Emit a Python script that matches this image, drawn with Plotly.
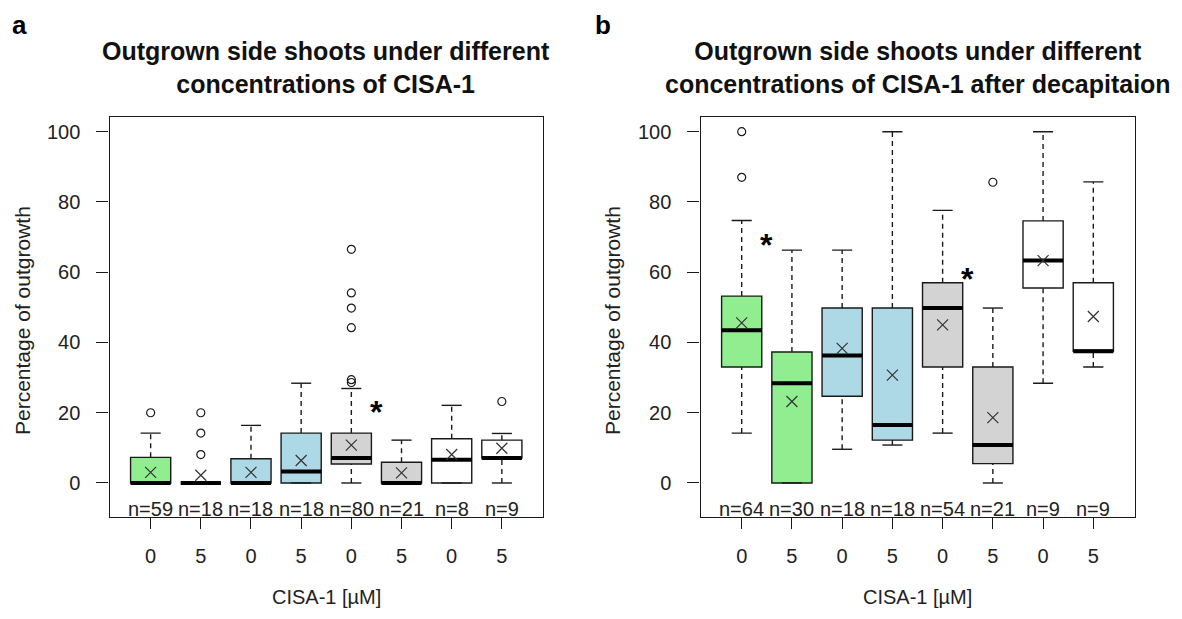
import plotly.graph_objects as go

# ---------------- data ----------------
positions = [1, 2, 3, 4, 5, 6, 7, 8]
tick_labels = ["0", "5", "0", "5", "0", "5", "0", "5"]
fill_colors = ["#90EE90", "#90EE90", "#ADD8E6", "#ADD8E6",
               "#D3D3D3", "#D3D3D3", "#FFFFFF", "#FFFFFF"]

# panel a
q1_a = [0, 0, 0, 0, 5.4, 0, 0, 7.1]
med_a = [0, 0, 0, 3.3, 7.1, 0, 6.6, 7.1]
q3_a = [7.3, 0, 6.9, 14.2, 14.2, 5.9, 12.6, 12.2]
lo_a = [0, 0, 0, 0, 0, 0, 0, 0]
hi_a = [14.2, 0, 16.4, 28.4, 26.9, 12.2, 22.1, 14.1]
mean_a = [3.0, 2.2, 3.0, 6.4, 10.8, 2.9, 8.1, 9.9]
out_a = [[20], [20, 14.2, 8.1], [], [], [66.5, 54.1, 49.8, 44.2, 29.4, 28.6], [], [], [23.2]]
n_a = [59, 18, 18, 18, 80, 21, 8, 9]
star_x_a = [5.5]
star_y_a = [21]

# panel b
q1_b = [33.0, 0, 24.7, 12.2, 33.0, 5.5, 55.5, 37.5]
med_b = [43.5, 28.4, 36.3, 16.5, 49.8, 10.8, 63.3, 37.5]
q3_b = [53.2, 37.3, 49.8, 49.8, 57.0, 33.0, 74.6, 57.0]
lo_b = [14.2, 0, 9.6, 10.8, 14.2, 0, 28.4, 33.0]
hi_b = [74.7, 66.3, 66.3, 100, 77.6, 49.8, 100, 85.7]
mean_b = [45.6, 23.2, 38.3, 30.7, 45.0, 18.6, 63.3, 47.4]
out_b = [[100, 87.0], [], [], [], [], [85.6], [], []]
n_b = [64, 30, 18, 18, 54, 21, 9, 9]
star_x_b = [1.5, 5.5]
star_y_b = [68.7, 59.1]

titles = ["Outgrown side shoots under different<br>concentrations of CISA-1",
          "Outgrown side shoots under different<br>concentrations of CISA-1 after decapitaion"]
panel_letters = ["a", "b"]
x_title = "CISA-1 [µM]"
y_title = "Percentage of outgrowth"

# ---------------- styling ----------------
FONT = "Arial, Liberation Sans, sans-serif"
LINE = "#1a1a1a"
OFF = 8                      # default page body margin
W, H = 1182 - 2 * OFF, 619 - 2 * OFF
BOX_W = 0.8
CAP_W = 0.4


def px(x):
    return (x - OFF) / W


def py(y):
    return 1 - (y - OFF) / H


fig = go.Figure()


def add_panel(xa, ya, q1, med, q3, lo, hi, mean, outs, ns, sx, sy):
    xref = "x" if xa == "x" else "x2"
    yref = "y" if ya == "y" else "y2"
    for i, p in enumerate(positions):
        fig.add_trace(go.Box(
            x=[p], q1=[q1[i]], median=[med[i]], q3=[q3[i]],
            lowerfence=[q1[i]], upperfence=[q3[i]],
            width=BOX_W, fillcolor=fill_colors[i],
            line=dict(color=LINE, width=1.4), boxpoints=False,
            whiskerwidth=0, xaxis=xa, yaxis=ya, showlegend=False,
            hoverinfo="skip"))
        fig.add_trace(go.Scatter(
            x=[p, p, None, p, p], y=[lo[i], q1[i], None, q3[i], hi[i]],
            mode="lines", line=dict(color=LINE, width=1.4, dash="5px,4px"),
            xaxis=xa, yaxis=ya, showlegend=False, hoverinfo="skip"))
        fig.add_trace(go.Scatter(
            x=[p - CAP_W / 2, p + CAP_W / 2, None, p - CAP_W / 2, p + CAP_W / 2],
            y=[lo[i], lo[i], None, hi[i], hi[i]],
            mode="lines", line=dict(color=LINE, width=1.4),
            xaxis=xa, yaxis=ya, showlegend=False, hoverinfo="skip"))
        fig.add_trace(go.Scatter(
            x=[p - BOX_W / 2, p + BOX_W / 2], y=[med[i], med[i]],
            mode="lines", line=dict(color="#000000", width=4),
            xaxis=xa, yaxis=ya, showlegend=False, hoverinfo="skip"))
        if outs[i]:
            fig.add_trace(go.Scatter(
                x=[p] * len(outs[i]), y=outs[i], mode="markers",
                marker=dict(symbol="circle-open", size=8, color=LINE,
                            line=dict(width=1.2)),
                xaxis=xa, yaxis=ya, showlegend=False, hoverinfo="skip"))
    fig.add_trace(go.Scatter(
        x=positions, y=mean, mode="markers",
        marker=dict(symbol="x-thin-open", size=11, color="#333333",
                    line=dict(width=1.2, color="#333333")),
        xaxis=xa, yaxis=ya, showlegend=False, hoverinfo="skip"))
    for i, p in enumerate(positions):
        fig.add_annotation(x=p, y=-7.4, xref=xref, yref=yref,
                           xanchor="center", yanchor="middle",
                           text=f"n={ns[i]}", showarrow=False,
                           font=dict(family=FONT, size=20, color="#222222"))
    for xx, yy in zip(sx, sy):
        fig.add_annotation(x=xx, y=yy - 0.9, xref=xref, yref=yref, text="*",
                           xanchor="center", yanchor="middle",
                           showarrow=False,
                           font=dict(family=FONT, size=32, color="#000000",
                                     weight="bold"))


add_panel("x", "y", q1_a, med_a, q3_a, lo_a, hi_a, mean_a, out_a, n_a, star_x_a, star_y_a)
add_panel("x2", "y2", q1_b, med_b, q3_b, lo_b, hi_b, mean_b, out_b, n_b, star_x_b, star_y_b)

left_px = [109.5, 700.5]
right_px = [543.0, 1134.5]
top_px, bot_px = 117.0, 517.0
y_dom = [py(bot_px), py(top_px)]

axis_common = dict(showline=True, mirror=True, linecolor=LINE, linewidth=1.4,
                   showgrid=False, zeroline=False, ticks="outside",
                   tickcolor=LINE, tickwidth=1.2,
                   tickfont=dict(family=FONT, size=20, color="#222222"))

for k in range(2):
    xname = "xaxis" if k == 0 else "xaxis2"
    yname = "yaxis" if k == 0 else "yaxis2"
    fig.update_layout(**{
        xname: dict(domain=[px(left_px[k]), px(right_px[k])], range=[0.18, 8.82],
                    tickvals=positions, ticktext=tick_labels, ticklen=11,
                    ticklabelstandoff=10, anchor="y" if k == 0 else "y2",
                    **axis_common),
        yname: dict(domain=y_dom, range=[-9.68, 104.18],
                    tickvals=[0, 20, 40, 60, 80, 100], ticklen=12,
                    ticklabelstandoff=12, anchor="x" if k == 0 else "x2",
                    **axis_common),
    })
    cxp = (left_px[k] + right_px[k]) / 2
    fig.add_annotation(x=px(cxp), y=py(68), xref="paper", yref="paper",
                       xanchor="center", yanchor="middle",
                       text=titles[k], showarrow=False,
                       font=dict(family=FONT, size=25, color="#111111", weight="bold"))
    fig.add_annotation(x=px(19 if k == 0 else 603), y=py(25),
                       xref="paper", yref="paper", text=panel_letters[k],
                       xanchor="center", yanchor="middle",
                       showarrow=False,
                       font=dict(family=FONT, size=26, color="#000000", weight="bold"))
    fig.add_annotation(x=px(cxp), y=py(597), xref="paper", yref="paper",
                       xanchor="center", yanchor="middle", borderpad=0,
                       text=x_title, showarrow=False,
                       font=dict(family=FONT, size=20, color="#222222"))
    fig.add_annotation(x=px(22 if k == 0 else 612), y=py(321),
                       xref="paper", yref="paper", text=y_title, textangle=-90,
                       xanchor="center", yanchor="middle",
                       showarrow=False,
                       font=dict(family=FONT, size=21, color="#222222"))

fig.update_layout(width=W, height=H,
                  margin=dict(l=0, r=0, t=0, b=0, pad=0, autoexpand=False),
                  paper_bgcolor="white", plot_bgcolor="white",
                  boxmode="overlay", showlegend=False)

fig.write_html("out.html")
